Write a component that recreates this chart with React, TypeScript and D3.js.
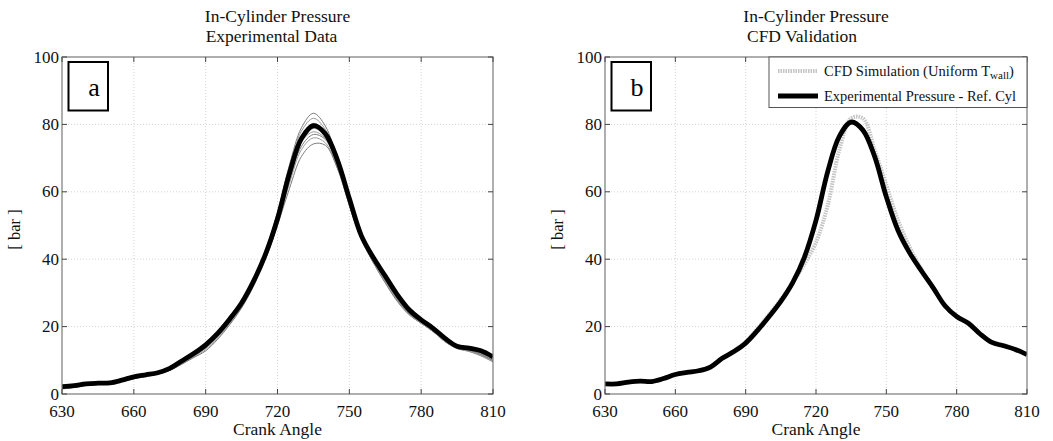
import React from "react";
import * as d3 from "d3";

// crank angle grid (deg), every 5 deg
const crankAngles = [
  630, 635, 640, 645, 650, 655, 660, 665, 670, 675, 680, 685, 690, 695, 700,
  705, 710, 715, 720, 725, 730, 735, 740, 745, 750, 755, 760, 765, 770, 775,
  780, 785, 790, 795, 800, 805, 810,
];

// panel a: mean experimental pressure (thick black)
const meanPressure = [
  2.2, 2.5, 3.0, 3.2, 3.3, 4.1, 5.1, 5.7, 6.3, 7.6, 9.8, 12.0, 14.6, 18.0, 22.2,
  27.0, 33.5, 41.5, 52.0, 65.5, 75.8, 79.6, 77.2, 69.5, 58.0, 47.0, 40.5, 35.0,
  29.5, 25.0, 22.0, 19.5, 16.5, 14.2, 13.6, 12.8, 11.0,
];

// panel a: individual cycles (thin gray)
const cycle1 = [
  1.6, 2.0, 2.6, 3.0, 3.2, 3.8, 4.6, 5.3, 6.0, 7.2, 9.2, 11.4, 14.0, 17.6, 22.0,
  27.2, 34.0, 42.5, 54.0, 68.0, 79.0, 83.3, 79.5, 69.5, 56.0, 46.0, 39.0, 33.0,
  27.5, 23.5, 21.0, 18.5, 15.5, 13.5, 12.8, 11.5, 9.8,
];
const cycle2 = [
  1.9, 2.3, 2.8, 3.1, 3.3, 4.0, 4.9, 5.5, 6.1, 7.3, 9.4, 11.7, 14.3, 17.8, 22.0,
  27.0, 33.8, 42.0, 53.0, 67.0, 78.0, 81.8, 78.5, 69.0, 56.5, 46.5, 39.5, 33.5,
  28.0, 23.8, 21.3, 18.8, 15.8, 13.8, 13.0, 11.8, 10.0,
];
const cycle3 = [
  1.5, 1.9, 2.5, 2.9, 3.1, 3.7, 4.5, 5.2, 5.9, 7.0, 9.0, 11.2, 13.8, 17.2, 21.5,
  26.5, 33.0, 41.0, 52.0, 65.5, 76.5, 80.3, 77.5, 68.0, 56.0, 46.0, 39.0, 33.0,
  27.8, 23.6, 21.0, 18.6, 15.6, 13.6, 12.7, 11.4, 9.6,
];
const cycle4 = [
  2.0, 2.4, 2.9, 3.2, 3.4, 4.1, 5.0, 5.6, 6.2, 7.4, 9.5, 11.8, 14.4, 17.9, 22.0,
  26.8, 33.2, 41.0, 51.5, 64.5, 75.0, 78.8, 76.5, 68.5, 57.0, 47.0, 40.0, 34.0,
  28.5, 24.0, 21.5, 19.0, 16.0, 14.0, 13.2, 12.0, 10.4,
];
const cycle5 = [
  1.7, 2.1, 2.7, 3.0, 3.2, 3.9, 4.7, 5.4, 6.0, 7.1, 9.1, 11.3, 13.6, 17.0, 21.2,
  26.2, 32.8, 40.8, 51.0, 63.5, 73.5, 77.0, 75.5, 67.5, 56.5, 46.5, 39.5, 33.8,
  28.2, 23.8, 21.2, 18.7, 15.7, 13.7, 12.9, 11.6, 9.9,
];
const cycle6 = [
  1.8, 2.2, 2.8, 3.1, 3.3, 4.0, 4.8, 5.5, 6.1, 7.2, 9.2, 11.0, 13.2, 16.6, 20.8,
  25.8, 32.5, 40.5, 50.5, 62.5, 72.5, 76.0, 74.5, 67.0, 56.0, 46.2, 39.2, 33.4,
  28.0, 23.6, 21.0, 18.5, 15.5, 13.5, 12.6, 11.3, 9.5,
];
const cycle7 = [
  1.6, 2.0, 2.6, 3.0, 3.2, 3.8, 4.6, 5.3, 6.0, 7.0, 8.8, 10.8, 12.8, 16.2, 20.5,
  25.5, 32.0, 40.0, 50.0, 61.0, 70.5, 74.2, 73.8, 67.0, 57.0, 47.0, 40.0, 34.0,
  28.5, 24.0, 21.4, 18.8, 15.8, 13.8, 13.0, 11.7, 10.0,
];
const cycle8 = [
  1.9, 2.3, 2.9, 3.2, 3.3, 4.0, 4.9, 5.6, 6.2, 7.4, 9.6, 11.9, 14.5, 18.0, 22.2,
  27.0, 33.5, 41.5, 52.0, 65.0, 74.8, 77.8, 75.8, 67.8, 56.2, 46.3, 39.3, 33.3,
  27.9, 23.7, 21.1, 18.6, 15.7, 13.7, 12.8, 11.5, 9.7,
];
const cycles = [cycle1, cycle2, cycle3, cycle4, cycle5, cycle6, cycle7, cycle8];

// panel b
const refCylPressure = [
  3.0, 3.0, 3.5, 3.8, 3.7, 4.6, 5.8, 6.4, 6.9, 8.0, 10.6, 12.6, 15.1, 18.8, 23.0,
  27.5, 33.0, 40.5, 51.5, 66.0, 76.5, 80.7, 78.3, 70.5, 58.5, 48.5, 41.8, 36.5,
  31.5, 26.2, 23.0, 21.0, 17.8, 15.3, 14.3, 13.2, 11.7,
];
const cfdPressure = [
  3.0, 3.1, 3.5, 3.8, 3.9, 4.7, 5.8, 6.4, 7.0, 8.2, 10.7, 12.8, 15.5, 19.3, 23.6,
  28.0, 33.0, 38.5, 45.0, 56.0, 72.5, 81.8, 81.8, 72.5, 62.0, 51.5, 43.5, 37.0,
  31.5, 26.5, 23.2, 21.0, 18.0, 15.5, 14.5, 13.3, 11.8,
];

const xTicks = [630, 660, 690, 720, 750, 780, 810];
const yTicks = [0, 20, 40, 60, 80, 100];

const W = 1053;
const H = 441;
const FONT = "'Liberation Serif', 'Times New Roman', serif";
const top = 57;
const bottom = 394;

type PanelProps = {
  x0: number;
  x1: number;
  title1: string;
  title2: string;
  title2Shift: number;
  letter: string;
  children: (x: d3.ScaleLinear<number, number>, y: d3.ScaleLinear<number, number>) => React.ReactNode;
};

const Panel = ({ x0, x1, title1, title2, title2Shift, letter, children }: PanelProps) => {
  const x = d3.scaleLinear().domain([630, 810]).range([x0, x1]);
  const y = d3.scaleLinear().domain([0, 100]).range([bottom, top]);
  const cx = (x0 + x1) / 2;
  const clipId = "clip-" + letter;
  return (
    <g fontFamily={FONT}>
      <defs>
        <clipPath id={clipId}>
          <rect x={x0} y={top} width={x1 - x0} height={bottom - top} />
        </clipPath>
      </defs>
      {/* grid */}
      {xTicks.slice(1, -1).map((t) => (
        <line key={"gx" + t} x1={x(t)} x2={x(t)} y1={top} y2={bottom} stroke="#d4d4d4" strokeDasharray="1,2" />
      ))}
      {yTicks.slice(1, -1).map((t) => (
        <line key={"gy" + t} x1={x0} x2={x1} y1={y(t)} y2={y(t)} stroke="#d4d4d4" strokeDasharray="1,2" />
      ))}
      {/* data */}
      <g clipPath={`url(#${clipId})`}>{children(x, y)}</g>
      {/* box and ticks */}
      <rect x={x0} y={top} width={x1 - x0} height={bottom - top} fill="none" stroke="#7a7a7a" strokeWidth={1.2} />
      {xTicks.map((t) => (
        <g key={"tx" + t} stroke="#444">
          <line x1={x(t)} x2={x(t)} y1={bottom} y2={bottom - 5} />
          <line x1={x(t)} x2={x(t)} y1={top} y2={top + 5} />
        </g>
      ))}
      {yTicks.map((t) => (
        <g key={"ty" + t} stroke="#444">
          <line x1={x0} x2={x0 + 5} y1={y(t)} y2={y(t)} />
          <line x1={x1} x2={x1 - 5} y1={y(t)} y2={y(t)} />
        </g>
      ))}
      {xTicks.map((t) => (
        <text key={"lx" + t} x={x(t)} y={417} textAnchor="middle" fontSize={17} fill="#111">
          {t}
        </text>
      ))}
      {yTicks.map((t) => (
        <text key={"ly" + t} x={x0 - 3} y={y(t) + 5.5} textAnchor="end" fontSize={17} fill="#111">
          {t}
        </text>
      ))}
      <text x={cx} y={435} textAnchor="middle" fontSize={17.5} fill="#111">
        Crank Angle
      </text>
      <text x={cx} y={22} textAnchor="middle" fontSize={17.5} fill="#111">
        {title1}
      </text>
      <text x={cx + title2Shift} y={42} textAnchor="middle" fontSize={17.5} fill="#111">
        {title2}
      </text>
      <text
        transform={`translate(${x0 - 42},${(top + bottom) / 2 + 4}) rotate(-90)`}
        textAnchor="middle"
        fontSize={16.5}
        fill="#111"
      >
        [ bar ]
      </text>
      {/* panel letter */}
      <rect x={x0 + 6.5} y={62} width={39.5} height={48.5} fill="white" stroke="#000" strokeWidth={2} />
      <text x={x0 + 32} y={96} textAnchor="middle" fontSize={26} fill="#000">
        {letter}
      </text>
    </g>
  );
};

const lineFor = (x: d3.ScaleLinear<number, number>, y: d3.ScaleLinear<number, number>, values: number[]) =>
  d3
    .line<number>()
    .x((_, i) => x(crankAngles[i]))
    .y((d) => y(d))
    .curve(d3.curveCatmullRom)(values) || "";

export default function App() {
  return (
    <div style={{ position: "absolute", left: 0, top: 0 }}>
      <svg width={W} height={H} style={{ display: "block", background: "white" }}>
        <Panel x0={62} x1={493} title1="In-Cylinder Pressure" title2="Experimental Data" title2Shift={-6} letter="a">
          {(x, y) => (
            <g fill="none">
              {cycles.map((c, i) => (
                <path key={i} d={lineFor(x, y, c)} stroke={i % 2 ? "#9a9a9a" : "#7c7c7c"} strokeWidth={1} />
              ))}
              <path d={lineFor(x, y, meanPressure)} stroke="#000" strokeWidth={4.8} strokeLinejoin="round" />
            </g>
          )}
        </Panel>
        <Panel x0={605} x1={1027} title1="In-Cylinder Pressure" title2="CFD Validation" title2Shift={-14} letter="b">
          {(x, y) => (
            <g fill="none">
              <path d={lineFor(x, y, cfdPressure)} stroke="#c4c4c4" strokeWidth={4} strokeDasharray="1.5,1" />
              <path d={lineFor(x, y, refCylPressure)} stroke="#000" strokeWidth={4.8} strokeLinejoin="round" />
            </g>
          )}
        </Panel>
        {/* legend for panel b */}
        <g fontFamily={FONT}>
          <rect x={769} y={57} width={258} height={50.5} fill="white" stroke="#555" strokeWidth={1} />
          <line x1={778} x2={818} y1={71} y2={71} stroke="#c4c4c4" strokeWidth={4} strokeDasharray="1.5,1" />
          <text x={824} y={76} fontSize={14.5} fill="#111">
            CFD Simulation (Uniform T
            <tspan fontSize={11} dy={3}>wall</tspan>
            <tspan dy={-3}>)</tspan>
          </text>
          <line x1={778} x2={818} y1={96} y2={96} stroke="#000" strokeWidth={4.8} />
          <text x={824} y={101} fontSize={14.5} fill="#111">
            Experimental Pressure - Ref. Cyl
          </text>
        </g>
      </svg>
    </div>
  );
}
